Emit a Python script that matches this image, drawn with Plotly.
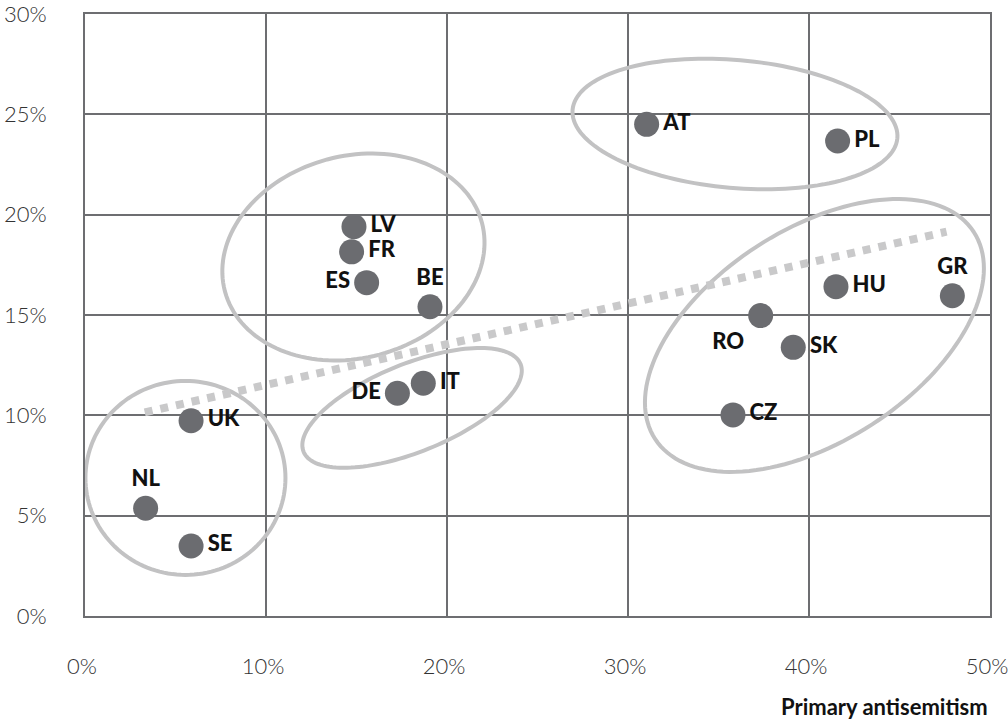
import numpy as np
import plotly.graph_objects as go

# ---- data ----
countries = ["UK", "NL", "SE", "LV", "FR", "ES", "BE", "DE", "IT",
             "AT", "PL", "HU", "GR", "RO", "SK", "CZ"]
primary = [5.86, 3.35, 5.86, 14.86, 14.73, 15.56, 19.06, 17.26, 18.69,
           31.03, 41.58, 41.49, 47.92, 37.33, 39.13, 35.80]
secondary = [9.73, 5.37, 3.49, 19.40, 18.15, 16.61, 15.41, 11.10, 11.60,
             24.50, 23.67, 16.41, 15.96, 14.97, 13.39, 10.02]
x_ticks = [0, 10, 20, 30, 40, 50]
x_tick_labels = ["0%", "10%", "20%", "30%", "40%", "50%"]
y_ticks = [0, 5, 10, 15, 20, 25, 30]
y_tick_labels = ["0%", "5%", "10%", "15%", "20%", "25%", "30%"]
trend_x = [3.3, 47.6]
trend_y = [10.15, 19.15]
x_title = "Primary antisemitism"

# ---- styling / layout ----
W, H = 1008, 720
ML, MR, MT, MB = 85, 18, 14, 104
XR, YR = [0, 50], [0, 30]
PXX = (W - ML - MR) / (XR[1] - XR[0])
PXY = (H - MT - MB) / (YR[1] - YR[0])

label_pos = ["middle right", "top center", "middle right", "middle right",
             "middle right", "middle left", "top center", "middle left",
             "middle right", "middle right", "middle right", "middle right",
             "top center", "bottom left", "middle right", "middle right"]

# group outlines: centre (data units), semi-axes (px), angle (deg)
groups = [
    (5.55, 6.88, 100, 97, 0),
    (18.07, 10.37, 117, 44, 22),
    (14.83, 17.89, 133, 101, 15),
    (35.91, 24.52, 163, 64, -5),
    (40.30, 13.98, 190, 106, 33),
]

GRID = "#6d6e71"
MARK = "#6b6c70"
RING = "#c2c2c3"
DOTS = "#c9c9ca"


def ellipse_path(cx, cy, a, b, ang):
    t = np.linspace(0, 2 * np.pi, 145)
    th = np.radians(ang)
    dx = a * np.cos(t) * np.cos(th) - b * np.sin(t) * np.sin(th)
    dy = a * np.cos(t) * np.sin(th) + b * np.sin(t) * np.cos(th)
    xs = cx + dx / PXX
    ys = cy + dy / PXY
    return "M " + " L ".join(f"{x:.4f},{y:.4f}" for x, y in zip(xs, ys)) + " Z"


fig = go.Figure()

fig.add_trace(go.Scatter(
    x=trend_x, y=trend_y, mode="lines",
    line=dict(color=DOTS, width=8, dash="8px,8px"),
    hoverinfo="skip", showlegend=False,
))

fig.add_trace(go.Scatter(
    x=primary, y=secondary, mode="markers+text",
    text=countries, textposition=label_pos,
    marker=dict(size=25, color=MARK, line=dict(width=0)),
    textfont=dict(family="Lato", size=22, color="#111111", weight=900),
    showlegend=False, cliponaxis=False,
))

shapes = []
for cx, cy, a, b, ang in groups:
    shapes.append(dict(type="path", path=ellipse_path(cx, cy, a, b, ang),
                       xref="x", yref="y", layer="between",
                       line=dict(color=RING, width=4), fillcolor="rgba(0,0,0,0)"))

axis_common = dict(
    showgrid=True, gridcolor=GRID, gridwidth=2,
    showline=True, linecolor=GRID, linewidth=2, mirror=True,
    zeroline=False, ticks="", fixedrange=True, automargin=False,
    tickmode="array", ticklabeloverflow="allow",
    tickfont=dict(family="Lato", size=22, color="#333333", weight=300),
)

fig.update_layout(
    width=W, height=H,
    margin=dict(l=ML, r=MR, t=MT, b=MB, pad=0, autoexpand=False),
    paper_bgcolor="white", plot_bgcolor="white",
    xaxis=dict(range=XR, tickvals=x_ticks, ticktext=x_tick_labels,
               ticklabelstandoff=30, ticklabelshift=-3, **axis_common),
    yaxis=dict(range=YR, tickvals=y_ticks, ticktext=y_tick_labels,
               ticklabelstandoff=32, **axis_common),
    shapes=shapes,
    annotations=[dict(
        text=f"<b>{x_title}</b>", xref="paper", yref="paper",
        x=1.0, y=(H - MT - MB - (706 - MT)) / (H - MT - MB),
        xanchor="right", yanchor="middle",
        showarrow=False,
        font=dict(family="Lato", size=22, color="#111111"),
    )],
)

fig.write_html(
    "out.html",
    config={"displayModeBar": False},
    post_script="document.body.style.margin='0';document.body.style.overflow='hidden';",
)
